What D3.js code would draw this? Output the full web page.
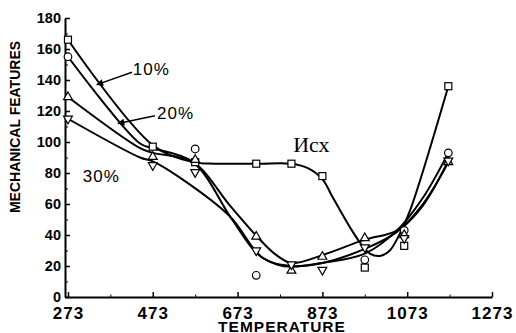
<!DOCTYPE html>
<html>
<head>
<meta charset="utf-8">
<script src="https://cdn.jsdelivr.net/npm/d3@7"></script>
<style>
  body { margin: 0; background: #fff; }
  svg { display: block; }
</style>
</head>
<body>
<svg id="chart" width="516" height="333"></svg>
<script>
// marker positions (temperature) and measured values
const temps = [273, 473, 573, 717, 800, 873, 973, 1066, 1170]
const sqVals = [166, 97, 87, 86, 86, 78, 19, 33, 136]
const ciVals = [155, null, 95.5, 14, null, null, 24, 43, 93]
const upVals = [129, 90.5, 88.5, 39, 17, 26, 38, 40, 87]
const dnVals = [115, 85, 80.5, 30, 21, 17.5, 32, 38, 88]

// smoothed fit curves: [temperature, value]
const sqFit = [[273, 166], [473, 98], [568, 87], [620, 86], [720, 86], [800, 86], [840, 83], [873, 76], [898, 64], [938, 45], [962, 35], [985, 28], [1009, 26.5], [1032, 30], [1056, 41], [1080, 56], [1170, 136]]
const ciFit = [[273, 155], [443, 99], [473, 96], [568, 87], [660, 50], [719, 28], [766, 21], [800, 19.5], [873, 22], [973, 28], [1049, 43], [1110, 64], [1170, 93]]
const upFit = [[273, 129], [443, 96], [473, 93], [568, 87], [655, 59], [719, 39], [760, 28], [800, 22], [873, 27], [973, 37], [1049, 43], [1110, 60], [1170, 87]]
const dnFit = [[273, 115], [443, 90], [473, 87.5], [537, 77], [655, 52], [733, 25], [800, 20], [873, 22], [973, 31], [1049, 42], [1110, 59], [1170, 88]]

const xTicks = [273, 473, 673, 873, 1073, 1273]
const xMinor = [373, 573, 773, 973, 1173]
const yTicks = [0, 20, 40, 60, 80, 100, 120, 140, 160, 180]
const yMinor = [10, 30, 50, 70, 90, 110, 130, 150, 170]

// annotations in data units
const notes = [
  { text: '10%', t: 426, v: 143 },
  { text: '20%', t: 483, v: 115 },
  { text: '30%', t: 308, v: 74 }
]
const arrows = [
  { from: [424, 145], to: [341, 137] },
  { from: [478, 117], to: [391, 112] }
]

const svg = d3.select('#chart')
const x = d3.scaleLinear().domain([266, 1273]).range([65, 492])
const y = d3.scaleLinear().domain([0, 180]).range([297, 18])

svg.append('defs').append('marker')
  .attr('id', 'ah')
  .attr('viewBox', '0 0 10 10')
  .attr('refX', 9).attr('refY', 5)
  .attr('markerWidth', 9).attr('markerHeight', 7)
  .attr('markerUnits', 'userSpaceOnUse')
  .attr('orient', 'auto')
  .append('path').attr('d', 'M0,0 L10,5 L0,10 Z').attr('fill', '#000')

// axes
const gx = svg.append('g').attr('transform', 'translate(0,297)')
  .call(d3.axisBottom(x).tickValues(xTicks).tickFormat(d3.format('d'))
    .tickSize(-5).tickSizeOuter(0).tickPadding(10))
gx.select('.domain').attr('stroke-width', 2)
gx.selectAll('.tick line').attr('stroke-width', 1.5)
gx.selectAll('text')
  .attr('font-family', 'Liberation Sans, Arial, sans-serif')
  .attr('font-size', 17).attr('font-weight', 'bold')
  .attr('letter-spacing', 1).attr('fill', '#000')

svg.append('g').attr('transform', 'translate(0,297)')
  .call(d3.axisBottom(x).tickValues(xMinor).tickSize(-2.5).tickFormat(''))
  .call(g => g.select('.domain').remove())

const gy = svg.append('g').attr('transform', 'translate(65,0)')
  .call(d3.axisLeft(y).tickValues(yTicks).tickSize(-5).tickSizeOuter(0).tickPadding(4))
gy.select('.domain').attr('stroke-width', 2)
gy.selectAll('.tick line').attr('stroke-width', 1.5)
gy.selectAll('text')
  .attr('font-family', 'Liberation Sans, Arial, sans-serif')
  .attr('font-size', 14.5).attr('font-weight', 'bold').attr('fill', '#000')

svg.append('g').attr('transform', 'translate(65,0)')
  .call(d3.axisLeft(y).tickValues(yMinor).tickSize(-3).tickFormat(''))
  .call(g => g.select('.domain').remove())

// axis titles
svg.append('text')
  .attr('transform', 'translate(20,127) rotate(-90)')
  .attr('text-anchor', 'middle')
  .attr('font-family', 'Liberation Sans, Arial, sans-serif')
  .attr('font-size', 14).attr('font-weight', 'bold')
  .text('MECHANICAL FEATURES')

svg.append('text')
  .attr('x', 282).attr('y', 332)
  .attr('text-anchor', 'middle')
  .attr('font-family', 'Liberation Sans, Arial, sans-serif')
  .attr('font-size', 15.5).attr('font-weight', 'bold')
  .attr('letter-spacing', 1)
  .text('TEMPERATURE')

// curves
const line = d3.line()
  .x(d => x(d[0])).y(d => y(d[1]))
  .curve(d3.curveCatmullRom.alpha(0.5))

;[sqFit, ciFit, upFit, dnFit].forEach(fit => {
  svg.append('path')
    .attr('d', line(fit))
    .attr('fill', 'none')
    .attr('stroke', '#000')
    .attr('stroke-width', 2)
})

// markers
function pts (vals) {
  return temps.map((t, i) => [t, vals[i]]).filter(d => d[1] != null)
}
const mk = svg.append('g').attr('fill', '#fff').attr('stroke', '#000').attr('stroke-width', 1.2)

mk.selectAll('rect.sq').data(pts(sqVals)).join('rect')
  .attr('x', d => x(d[0]) - 3.5).attr('y', d => y(d[1]) - 3.5)
  .attr('width', 7).attr('height', 7)

mk.selectAll('circle.ci').data(pts(ciVals)).join('circle')
  .attr('cx', d => x(d[0])).attr('cy', d => y(d[1])).attr('r', 3.8)

const tri = d3.symbol().type(d3.symbolTriangle).size(34)
mk.selectAll('path.up').data(pts(upVals)).join('path')
  .attr('d', tri)
  .attr('transform', d => `translate(${x(d[0])},${y(d[1])})`)

mk.selectAll('path.dn').data(pts(dnVals)).join('path')
  .attr('d', tri)
  .attr('transform', d => `translate(${x(d[0])},${y(d[1])}) rotate(180)`)

// annotations
arrows.forEach(a => {
  svg.append('line')
    .attr('x1', x(a.from[0])).attr('y1', y(a.from[1]))
    .attr('x2', x(a.to[0])).attr('y2', y(a.to[1]))
    .attr('stroke', '#000').attr('stroke-width', 1.5)
    .attr('marker-end', 'url(#ah)')
})

svg.selectAll('text.note').data(notes).join('text')
  .attr('x', d => x(d.t)).attr('y', d => y(d.v))
  .attr('font-family', 'Liberation Sans, Arial, sans-serif')
  .attr('font-size', 17).attr('letter-spacing', 1)
  .text(d => d.text)

svg.append('text')
  .attr('x', x(804)).attr('y', y(93.5))
  .attr('font-family', 'Liberation Serif, Times New Roman, serif')
  .attr('font-size', 22)
  .text('Исх')
</script>
</body>
</html>
